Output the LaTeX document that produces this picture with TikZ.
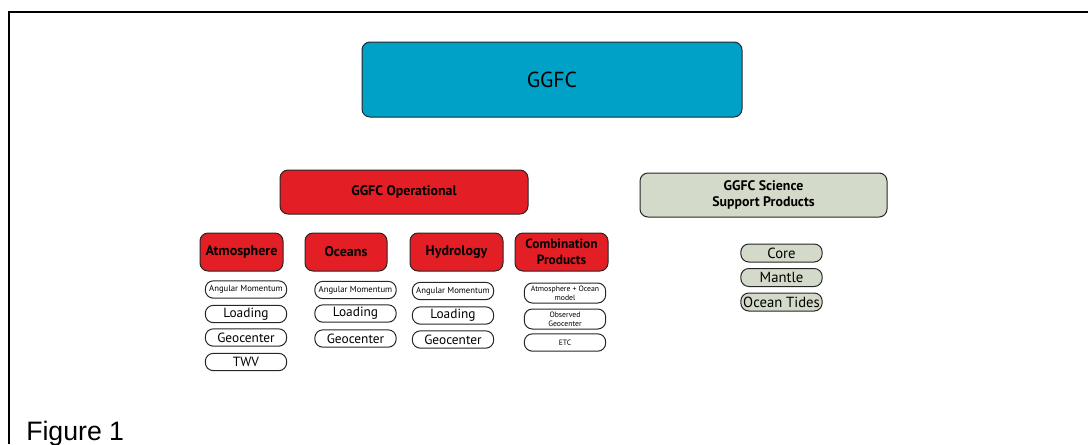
\documentclass[tikz,border=0pt]{standalone}
\usepackage{fontspec}
\setmainfont{PT Sans}
\newfontfamily\figfont{Liberation Sans}
\definecolor{ggfcblue}{RGB}{0,161,198}
\definecolor{ggfcred}{RGB}{227,30,37}
\definecolor{ggfcgray}{RGB}{211,218,201}

\begin{document}
\begin{tikzpicture}[x=0.75pt,y=-0.75pt,
  box/.style={draw=black!85,line width=0.75pt,rounded corners=6pt,inner sep=0pt,align=center},
  head/.style={box,fill=ggfcred,minimum height=28.5pt,font=\fontsize{10.5}{11}\selectfont\bfseries},
  item/.style={draw=black!85,line width=0.75pt,rounded corners=6pt,inner sep=0pt,align=center,
    minimum width=61pt,minimum height=13pt,font=\fontsize{10}{11}\selectfont},
  tiny/.style={item,font=\fontsize{6.5}{7}\selectfont},
  sci/.style={item,fill=ggfcgray,minimum height=13.5pt,font=\fontsize{11}{12}\selectfont}]
 \useasboundingbox (0,0) rectangle (1088,444);
 \draw[line width=2.2pt] (1088,12)--(9,12)--(9,444);
 % top level
 \node[box,fill=ggfcblue,minimum width=285pt,minimum height=56.25pt,
   font=\fontsize{16.3}{17}\selectfont] (ggfc) at (552,79.5) {GGFC};
 \node[box,fill=ggfcred,minimum width=186pt,minimum height=33pt,
   font=\fontsize{10.4}{11}\selectfont\bfseries] (oper) at (404,192) {GGFC Operational};
 \node[box,fill=ggfcgray,minimum width=185.25pt,minimum height=33pt,
   font=\fontsize{10.4}{12.5}\selectfont\bfseries] (sci) at (763.5,195) {GGFC Science\\Support Products};
 % operational groups
 \node[head,minimum width=62.25pt] (atm) at (241.5,252) {Atmosphere};
 \node[head,minimum width=61.5pt] (ocn) at (346,252) {Oceans};
 \node[head,minimum width=69.75pt] (hyd) at (456.5,252) {Hydrology};
 \node[head,minimum width=69.75pt,font=\fontsize{10}{12}\selectfont\bfseries] (comb) at (561.5,252) {Combination\\Products};
 % products
 \node[tiny] (atm1) at (246,289.5) {Angular Momentum};
 \node[item] (atm2) at (246,314) {Loading};
 \node[item] (atm3) at (246,337.5) {Geocenter};
 \node[item] (atm4) at (246,362) {TWV};
 \node[tiny] (ocn1) at (355.5,290) {Angular Momentum};
 \node[item] (ocn2) at (355.5,313.5) {Loading};
 \node[item] (ocn3) at (355.5,338.5) {Geocenter};
 \node[tiny] (hyd1) at (453,291) {Angular Momentum};
 \node[item] (hyd2) at (453,315.5) {Loading};
 \node[item] (hyd3) at (453,339.5) {Geocenter};
 \node[tiny,minimum height=15pt,font=\fontsize{5.8}{6.6}\selectfont] (comb1) at (565,293) {Atmosphere + Ocean\\model};
 \node[tiny,minimum height=15pt,font=\fontsize{5.8}{6.6}\selectfont] (comb2) at (565,319) {Observed\\Geocenter};
 \node[tiny,font=\fontsize{5.8}{6.6}\selectfont] (comb3) at (565,342.5) {ETC};
 % science products
 \node[sci] (core) at (781.5,253) {Core};
 \node[sci] (mant) at (781.5,277.5) {Mantle};
 \node[sci] (tide) at (781.5,302) {Ocean Tides};
 \node[anchor=base west,inner sep=0pt,font=\figfont\fontsize{20}{22}\selectfont] (fig) at (26,440) {Figure 1};
\end{tikzpicture}
\end{document}
